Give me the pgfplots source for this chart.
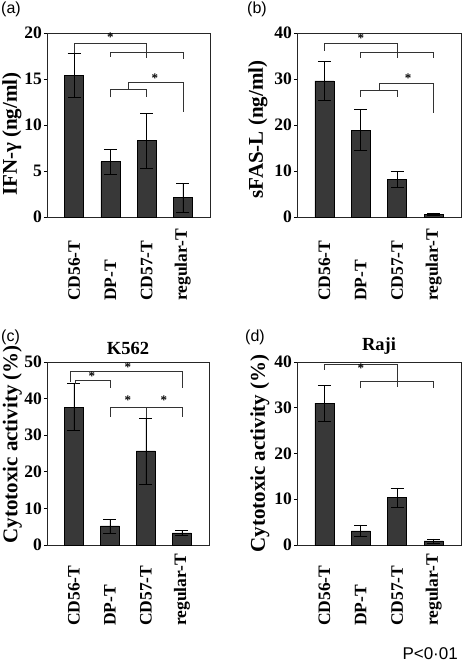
\documentclass[border=0pt]{standalone}
\usepackage{pgfplots}
\pgfplotsset{compat=1.18}
\usepackage{fontspec}
\setmainfont{Liberation Serif}
\newfontfamily\sansf{Liberation Sans}
\definecolor{barfill}{RGB}{56,56,56}
\tikzset{
  brk/.style={line width=0.6pt, black!80},
  st/.style={font=\bfseries\fontsize{13}{13}\selectfont, inner sep=0pt},
}
\pgfplotsset{
  panel/.style={
    scale only axis, anchor=south west, clip=false,
    xmin=-0.75, xmax=3.75, ymin=0,
    xtick={0,1,2,3},
    xticklabels={CD56-T,DP-T,CD57-T,regular-T},
    major x tick style={draw=none},
    xtick pos=bottom, ytick pos=left,
    tick align=outside, major tick length=3pt,
    major tick style={line width=0.7pt, black},
    axis line style={line width=0.7pt, black!85},
    yticklabel style={font=\bfseries\fontsize{17.5}{17.5}\selectfont, inner sep=2pt},
    /pgf/number format/assume math mode=true,
    ylabel style={font=\bfseries\fontsize{21}{21}\selectfont, anchor=center},
    title style={font=\bfseries\fontsize{18.5}{18.5}\selectfont, at={(axis description cs:0.5,1)}, anchor=south, inner sep=1pt},
  },
  toprow/.style={xticklabel style={yshift=-81pt, rotate=90, anchor=west, inner sep=0pt, font=\bfseries\fontsize{17.5}{17.5}\selectfont}},
  botrow/.style={xticklabel style={yshift=-78pt, rotate=90, anchor=west, inner sep=0pt, font=\bfseries\fontsize{17.5}{17.5}\selectfont}},
  barplot/.style={ybar, bar width=19pt, fill=barfill, draw=black, line width=0.6pt,
    error bars/.cd, y dir=both, y explicit,
    error bar style={line width=0.6pt, black},
    error mark options={rotate=90, mark size=6.5pt, line width=0.6pt, black}},
}
\begin{document}
\begin{tikzpicture}
\path[use as bounding box] (0,0) rectangle (462pt,662pt);
% (a)
\begin{axis}[panel, toprow, at={(47pt,445pt)}, width=163pt, height=184pt,
  ymax=20, ytick={0,5,10,15,20},
  ylabel={IFN-γ (ng/ml)}, ylabel style={at={(axis description cs:-0.215,0.45)}}]
\addplot[barplot] table[x=x, y=y, y error=e] {
x y e
0 15.4 2.4
1 6.0 1.35
2 8.3 3.0
3 2.1 1.6
};
\draw[brk] (axis cs:0,17.8) -- (axis cs:0,18.9) -- (axis cs:2,18.9) -- (axis cs:2,17.3);
\draw[brk] (axis cs:1,17.4) -- (axis cs:1,17.9) -- (axis cs:3,17.9) -- (axis cs:3,17.2);
\node[st] at (axis cs:1,19.5) {*};
\draw[brk] (axis cs:1,13.0) -- (axis cs:1,13.9) -- (axis cs:2,13.9) -- (axis cs:2,13.0);
\draw[brk] (axis cs:1.5,13.9) -- (axis cs:1.5,14.6) -- (axis cs:3,14.6) -- (axis cs:3,11.4);
\node[st] at (axis cs:2.23,15.1) {*};
\end{axis}
% (b)
\begin{axis}[panel, toprow, at={(297pt,445pt)}, width=164pt, height=184pt,
  ymax=40, ytick={0,10,20,30,40},
  ylabel={sFAS-L (ng/ml)}, ylabel style={at={(axis description cs:-0.238,0.476)}}]
\addplot[barplot] table[x=x, y=y, y error=e] {
x y e
0 29.6 4.3
1 18.9 4.5
2 8.2 1.7
3 0.6 0.3
};
\draw[brk] (axis cs:0,36.1) -- (axis cs:0,37.8) -- (axis cs:2,37.8) -- (axis cs:2,34.6);
\draw[brk] (axis cs:1,34.6) -- (axis cs:1,35.9) -- (axis cs:3,35.9) -- (axis cs:3,34.6);
\node[st] at (axis cs:1,38.9) {*};
\draw[brk] (axis cs:1,26.1) -- (axis cs:1,27.6) -- (axis cs:2,27.6) -- (axis cs:2,26.1);
\draw[brk] (axis cs:1.5,27.6) -- (axis cs:1.5,29.1) -- (axis cs:3,29.1) -- (axis cs:3,22.6);
\node[st] at (axis cs:2.3,30.2) {*};
\end{axis}
% (c)
\begin{axis}[panel, botrow, at={(47pt,117pt)}, width=162pt, height=183pt,
  ymax=50, ytick={0,10,20,30,40,50}, title={K562},
  ylabel={Cytotoxic activity (\%)}, ylabel style={at={(axis description cs:-0.214,0.55)}}]
\addplot[barplot] table[x=x, y=y, y error=e] {
x y e
0 37.7 6.4
1 5.2 1.9
2 25.7 9.0
3 3.3 0.6
};
\draw[brk] (axis cs:-0.1,44.5) -- (axis cs:-0.1,47.5) -- (axis cs:3,47.5) -- (axis cs:3,42.9);
\node[st] at (axis cs:1.5,48.6) {*};
\draw[brk] (axis cs:0.05,44.0) -- (axis cs:0.05,45.1) -- (axis cs:1,45.1) -- (axis cs:1,42.9);
\node[st] at (axis cs:0.5,46.2) {*};
\draw[brk] (axis cs:1,35.0) -- (axis cs:1,37.7) -- (axis cs:3,37.7) -- (axis cs:3,35.0);
\draw[brk] (axis cs:2,37.7) -- (axis cs:2,34.7);
\node[st] at (axis cs:1.5,39.6) {*};
\node[st] at (axis cs:2.5,39.6) {*};
\end{axis}
% (d)
\begin{axis}[panel, botrow, at={(297pt,117pt)}, width=164pt, height=183pt,
  ymax=40, ytick={0,10,20,30,40}, title={Raji},
  ylabel={Cytotoxic activity (\%)}, ylabel style={at={(axis description cs:-0.226,0.5)}}]
\addplot[barplot] table[x=x, y=y, y error=e] {
x y e
0 31.0 3.9
1 3.1 1.3
2 10.4 2.1
3 0.9 0.45
};
\draw[brk] (axis cs:0,38.3) -- (axis cs:0,39.6) -- (axis cs:2,39.6) -- (axis cs:2,34.5);
\node[st] at (axis cs:1,38.6) {*};
\draw[brk] (axis cs:1,34.3) -- (axis cs:1,35.8) -- (axis cs:3,35.8) -- (axis cs:3,34.3);
\end{axis}
% panel labels
\node[anchor=north west, inner sep=0pt, font=\sansf\fontsize{16}{16}\selectfont] at (1pt,660pt) {(a)};
\node[anchor=north west, inner sep=0pt, font=\sansf\fontsize{16}{16}\selectfont] at (247pt,660pt) {(b)};
\node[anchor=north west, inner sep=0pt, font=\sansf\fontsize{16}{16}\selectfont] at (1pt,332pt) {(c)};
\node[anchor=north west, inner sep=0pt, font=\sansf\fontsize{16}{16}\selectfont] at (245pt,332pt) {(d)};
\node[anchor=base east, inner sep=0pt, font=\sansf\fontsize{17}{17}\selectfont] at (458pt,2.5pt) {P<0·01};
\end{tikzpicture}
\end{document}
